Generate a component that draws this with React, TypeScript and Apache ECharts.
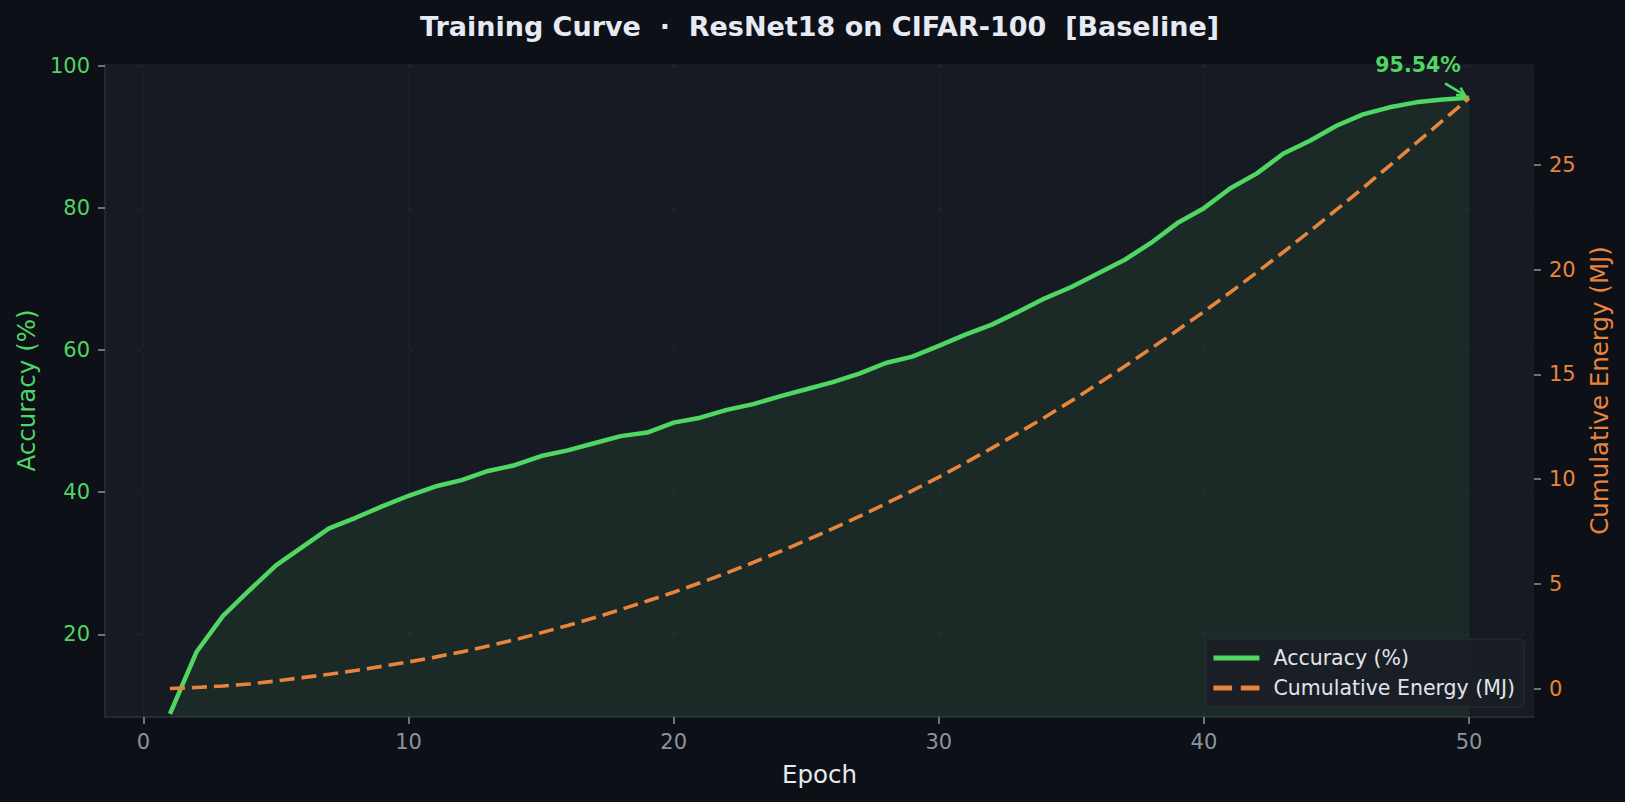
import React, { useEffect, useRef } from "react";
import * as echarts from "echarts";

const epochs = [
  1, 2, 3, 4, 5, 6, 7, 8, 9, 10, 11, 12, 13, 14, 15, 16, 17, 18, 19, 20, 21, 22, 23, 24, 25,
  26, 27, 28, 29, 30, 31, 32, 33, 34, 35, 36, 37, 38, 39, 40, 41, 42, 43, 44, 45, 46, 47, 48, 49, 50,
];

const accuracy = [
  8.8, 17.5, 22.6, 26.2, 29.7, 32.3, 34.9, 36.4, 38.0, 39.5,
  40.8, 41.7, 43.0, 43.8, 45.1, 45.9, 46.9, 47.9, 48.4, 49.8,
  50.5, 51.6, 52.4, 53.5, 54.5, 55.5, 56.7, 58.2, 59.1, 60.6,
  62.2, 63.6, 65.4, 67.3, 68.9, 70.8, 72.7, 75.1, 77.9, 80.0,
  82.8, 84.9, 87.7, 89.5, 91.6, 93.2, 94.2, 94.9, 95.3, 95.54,
];

const energy = [
  0.0, 0.05, 0.12, 0.22, 0.36, 0.52, 0.68, 0.86, 1.06, 1.27,
  1.5, 1.75, 2.03, 2.33, 2.66, 3.01, 3.38, 3.77, 4.18, 4.6,
  5.05, 5.52, 6.02, 6.54, 7.08, 7.64, 8.22, 8.83, 9.45, 10.1,
  10.78, 11.48, 12.21, 12.96, 13.74, 14.55, 15.38, 16.24, 17.11, 18.0,
  18.93, 19.88, 20.85, 21.85, 22.87, 23.91, 24.97, 26.05, 27.12, 28.2,
];

const xTicks = [0, 10, 20, 30, 40, 50];
const accTicks = [20, 40, 60, 80, 100];
const energyTicks = [0, 5, 10, 15, 20, 25];

const FONT = "'DejaVu Sans', sans-serif";
const GREEN = "#4fd663";
const ORANGE = "#e8843c";
const GREY = "#8c939d";

const App: React.FC = () => {
  const chartRef = useRef<HTMLDivElement | null>(null);

  useEffect(() => {
    document.body.style.margin = "0";
    document.body.style.background = "#0d1017";
    if (!chartRef.current) return;
    const chart = echarts.init(chartRef.current, undefined, { renderer: "svg" });

    const option = {
      animation: false,
      backgroundColor: "#0d1017",
      textStyle: { fontFamily: FONT },
      grid: {
        left: 105,
        right: 91,
        top: 64,
        bottom: 85,
        show: true,
        backgroundColor: "#161a22",
        borderWidth: 0,
      },
      legend: {
        orient: "vertical",
        right: 101,
        bottom: 95,
        padding: [8, 9, 8, 7],
        itemGap: 8,
        itemWidth: 46,
        itemHeight: 14,
        backgroundColor: "rgba(26,30,38,0.92)",
        borderColor: "#2a2f38",
        borderWidth: 1,
        borderRadius: 5,
        textStyle: {
          color: "#e0e4ea",
          fontSize: 20.5,
          fontFamily: FONT,
          lineHeight: 22,
          padding: [0, 0, 0, 9],
        },
        data: [
          { name: "Accuracy (%)", icon: "path://M0,0H46V5H0Z", itemStyle: { color: GREEN } },
          {
            name: "Cumulative Energy (MJ)",
            icon: "path://M0,0H15V4H0Z M22,0H37V4H22Z",
            itemStyle: { color: ORANGE },
          },
        ],
      },
      xAxis: {
        type: "value",
        min: -1.45,
        max: 52.45,
        name: "Epoch",
        nameLocation: "middle",
        nameGap: 45,
        nameTextStyle: { color: "#e6e9ef", fontSize: 24.5, fontFamily: FONT },
        axisLine: { show: true, onZero: false, lineStyle: { color: "#2b303a", width: 1.5 } },
        axisTick: { show: true, length: 7, customValues: xTicks, lineStyle: { color: GREY, width: 1.5 } },
        axisLabel: { customValues: xTicks, color: GREY, fontSize: 21, margin: 14, fontFamily: FONT },
        splitLine: { show: true, lineStyle: { color: "rgba(255,255,255,0.045)", type: [4, 4] } },
      },
      yAxis: [
        {
          type: "value",
          min: 8.35,
          max: 100.3,
          name: "Accuracy (%)",
          nameLocation: "middle",
          nameGap: 66,
          nameTextStyle: { color: GREEN, fontSize: 24.5, fontFamily: FONT },
          axisLine: { show: true, onZero: false, lineStyle: { color: "#2b303a", width: 1.5 } },
          axisTick: { show: true, length: 7, customValues: accTicks, lineStyle: { color: GREY, width: 1.5 } },
          axisLabel: { customValues: accTicks, color: GREEN, fontSize: 21, margin: 15, fontFamily: FONT },
          splitLine: { show: true, lineStyle: { color: "rgba(255,255,255,0.045)", type: [4, 4] } },
        },
        {
          type: "value",
          position: "right",
          min: -1.36,
          max: 29.83,
          name: "Cumulative Energy (MJ)",
          nameLocation: "middle",
          nameGap: 53,
          nameTextStyle: { color: ORANGE, fontSize: 24.5, fontFamily: FONT },
          axisLine: { show: false, onZero: false },
          axisTick: { show: true, length: 7, customValues: energyTicks, lineStyle: { color: GREY, width: 1.5 } },
          axisLabel: { customValues: energyTicks, color: ORANGE, fontSize: 21, margin: 15, fontFamily: FONT },
          splitLine: { show: false },
        },
      ],
      series: [
        {
          name: "Accuracy (%)",
          type: "line",
          yAxisIndex: 0,
          symbol: "none",
          data: epochs.map((e, i) => [e, accuracy[i]]),
          lineStyle: { color: GREEN, width: 4.5 },
          itemStyle: { color: GREEN },
          areaStyle: { color: "rgba(79,214,99,0.12)" },
          z: 2,
        },
        {
          name: "Cumulative Energy (MJ)",
          type: "line",
          yAxisIndex: 1,
          symbol: "none",
          data: epochs.map((e, i) => [e, energy[i]]),
          lineStyle: { color: ORANGE, width: 3.6, type: [15, 7], cap: "butt" },
          itemStyle: { color: ORANGE },
          z: 3,
        },
      ],
    };

    chart.setOption(option);

    // annotation of the final accuracy, placed from the data point
    const last = epochs.length - 1;
    const [px, py] = chart.convertToPixel({ xAxisIndex: 0, yAxisIndex: 0 }, [epochs[last], accuracy[last]]);
    const tipX = px - 4;
    const tipY = py - 2.5;
    const tailX = px - 24;
    const tailY = py - 14.5;
    const ang = Math.atan2(tipY - tailY, tipX - tailX);
    const head = 9;
    const spread = 0.5;
    chart.setOption({
      graphic: [
        {
          type: "text",
          x: 819.5,
          y: 26,
          style: {
            text: "Training Curve  ·  ResNet18 on CIFAR-100  [Baseline]",
            fill: "#e6eaf2",
            font: `bold 27px ${FONT}`,
            align: "center",
            verticalAlign: "middle",
          },
        },
        {
          type: "text",
          x: px - 51,
          y: py - 33,
          z: 10,
          style: {
            text: `${accuracy[last].toFixed(2)}%`,
            fill: GREEN,
            font: `bold 20.5px ${FONT}`,
            align: "center",
            verticalAlign: "middle",
          },
        },
        {
          type: "line",
          z: 10,
          shape: { x1: tailX, y1: tailY, x2: tipX, y2: tipY },
          style: { stroke: GREEN, lineWidth: 2.5 },
        },
        {
          type: "polyline",
          z: 10,
          shape: {
            points: [
              [tipX - head * Math.cos(ang - spread), tipY - head * Math.sin(ang - spread)],
              [tipX, tipY],
              [tipX - head * Math.cos(ang + spread), tipY - head * Math.sin(ang + spread)],
            ],
          },
          style: { stroke: GREEN, lineWidth: 2.5, fill: null },
        },
      ],
    });

    const handleResize = () => chart.resize();
    window.addEventListener("resize", handleResize);
    return () => {
      window.removeEventListener("resize", handleResize);
      chart.dispose();
    };
  }, []);

  return <div ref={chartRef} style={{ width: "100vw", height: "100vh", background: "#0d1017" }} />;
};

export default App;
